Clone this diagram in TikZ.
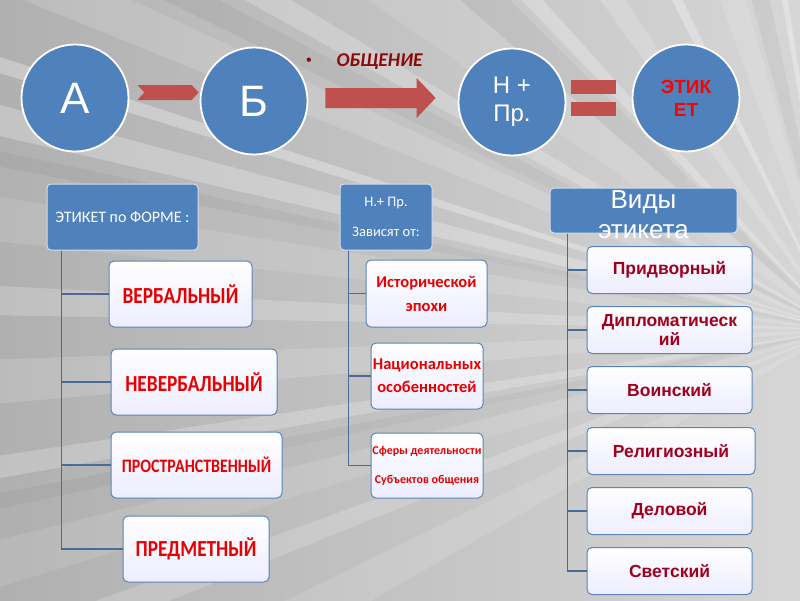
\documentclass[tikz,border=0pt]{standalone}
\usepackage{fontspec}
\usepackage{graphicx}
\setmainfont{Liberation Sans}
\newfontfamily\carl{Carlito}
\usetikzlibrary{calc}
\definecolor{cblue}{HTML}{4F81BD}
\definecolor{arrred}{HTML}{C0504D}
\definecolor{lineblue}{HTML}{4A6A9A}
\definecolor{boxedge}{HTML}{5B84B8}
\definecolor{txtred}{HTML}{E80000}
\definecolor{darkred}{HTML}{A0001C}
\definecolor{obred}{HTML}{8B0A0A}
\definecolor{bgL}{HTML}{B0B0B0}
\definecolor{bgR}{HTML}{D6D6D6}
\newcommand\fs[2]{\fontsize{#1}{#2}\selectfont}
\newcommand\lbt[1]{\scalebox{0.84}[1]{\carl\bfseries\fs{23}{26}\selectfont #1}}
\begin{document}
\begin{tikzpicture}[x=1pt,y=-1pt,
 circ/.style={circle,fill=cblue,draw=white,line width=1.8pt,minimum size=107pt,inner sep=0pt,text=white,align=center},
 hdr/.style={rounded corners=4pt,fill=cblue,draw=white!75!cblue,line width=1pt,text=white,align=center,inner sep=0pt},
 itembox/.style={rounded corners=5pt,draw=boxedge,line width=1pt,top color=white,bottom color=blue!7!white,align=center,inner sep=0pt},
 conn/.style={draw=lineblue,line width=1.2pt},
 blockarrow/.style={fill=arrred}
]
\useasboundingbox (0,0) rectangle (800,600);
% background
\shade[left color=bgL,right color=bgR] (0,0) rectangle (800,600);
\begin{scope}
\clip (0,0) rectangle (800,600);
\foreach \a/\w/\o in {150/4/0.12,158/2/0.18,163/5/0.1,170/1.5/0.22,175/3/0.15,181/2/0.2,186/5/0.12,193/2/0.25,197/1/0.3,202/4/0.15,209/2/0.22,215/6/0.1,226/2/0.25,234/3/0.18,243/1.5/0.3,250/4/0.12,260/1/0.3,266/2/0.2,275/1.5/0.22}
  \fill[white,opacity=\o] (840,330) -- +(\a:1200) -- +(\a+\w:1200) -- cycle;
\foreach \a/\w in {166/3,189/3,205/3,221/4,255/3}
  \fill[black,opacity=0.04] (840,330) -- +(\a:1200) -- +(\a+\w:1200) -- cycle;
\end{scope}

% top row
\node[circ,font=\fs{44}{48}] (A) at (75,98) {А};
\node[circ,font=\fs{44}{48}] (B) at (254,101) {Б};
\node[circ,font=\fs{24}{28}] (N) at (512,102) {Н +\\Пр.};
\node[circ,font=\bfseries\fs{19}{23},text=red] (E) at (686,98) {ЭТИК\\ЕТ};

% small arrow A -> B
\fill[blockarrow] ($(A.east)+(8,-13)$) -- ($(B.west)+(-8,-16)$) -- ($(B.west)+(-1,-8.5)$) -- ($(B.west)+(-8,-1)$) -- ($(A.east)+(8,2)$) -- ($(A.east)+(15,-5.5)$) -- cycle;
% big arrow B -> N
\fill[blockarrow] ($(B.east)+(17,-13)$) -- ($(N.west)+(-41,-14)$) -- ($(N.west)+(-41,-24)$) -- ($(N.west)+(-22,-4)$) -- ($(N.west)+(-41,16)$) -- ($(N.west)+(-41,6)$) -- ($(B.east)+(17,7)$) -- cycle;
% equals
\fill[blockarrow] ($(N.east)+(5,-22)$) rectangle ($(N.east)+(50,-8)$);
\fill[blockarrow] ($(N.east)+(5,0)$) rectangle ($(N.east)+(50,14)$);
% label
\node[text=obred,font=\fs{16}{18}] (bul) at (309,62) {•};
\node[anchor=west,text=obred,font=\carl\bfseries\itshape\fs{19.5}{21}] (ob) at (333,62) {ОБЩЕНИЕ};

% left group
\node[hdr,minimum width=151pt,minimum height=66pt,font=\carl\fs{16}{18}] (hL) at (122.5,217) {ЭТИКЕТ по ФОРМЕ :};
\node[itembox,minimum width=143pt,minimum height=66pt,text=txtred] (l1) at (180.5,294) {\lbt{ВЕРБАЛЬНЫЙ}};
\node[itembox,minimum width=166pt,minimum height=66pt,text=txtred] (l2) at (194,382) {\lbt{НЕВЕРБАЛЬНЫЙ}};
\node[itembox,minimum width=171pt,minimum height=66pt,text=txtred,font=\carl\bfseries\fs{19}{22}] (l3) at (196.5,465) {\scalebox{0.84}[1]{ПРОСТРАНСТВЕННЫЙ}};
\node[itembox,minimum width=146pt,minimum height=66pt,text=txtred] (l4) at (196,549) {\lbt{ПРЕДМЕТНЫЙ}};
\coordinate (lt) at ($(hL.south west)+(15,0)$);
\foreach \n in {l1,l2,l3,l4} \draw[conn] (lt) |- (\n.west);

% middle group
\node[hdr,minimum width=92pt,minimum height=66pt,font=\carl\fs{14.5}{30}] (hM) at (386,217) {Н.+ Пр.\\Зависят от:};
\node[itembox,minimum width=121pt,minimum height=67pt,text=txtred,font=\carl\bfseries\fs{16.5}{24}] (m1) at (426.5,293.5) {Исторической\\эпохи};
\node[itembox,minimum width=112pt,minimum height=66pt,text=txtred,font=\carl\bfseries\fs{16.5}{23}] (m2) at (427,376) {Национальных\\особенностей};
\node[itembox,minimum width=112pt,minimum height=65pt,text=txtred,font=\carl\bfseries\fs{12}{29}] (m3) at (427,465.5) {Сферы деятельности\\Субъектов общения};
\coordinate (mt) at ($(hM.south west)+(9,0)$);
\foreach \n in {m1,m2,m3} \draw[conn] (mt) |- (\n.west);

% right group
\node[hdr,minimum width=187pt,minimum height=45pt] (hR) at (643.5,210.5) {};
\node[text=white,align=center,font=\fs{26}{30}] (hRt) at (643.5,215) {Виды\\этикета};
\node[itembox,minimum width=165pt,minimum height=47pt,text=darkred,font=\bfseries\fs{17.5}{19}] (r1) at (669.5,270) {Придворный};
\node[itembox,minimum width=165pt,minimum height=47pt,text=darkred,font=\bfseries\fs{17.5}{19}] (r2) at (669.5,330) {Дипломатическ\\ий};
\node[itembox,minimum width=165pt,minimum height=47pt,text=darkred,font=\bfseries\fs{17.5}{19}] (r3) at (669.5,390) {Воинский};
\node[itembox,minimum width=168pt,minimum height=47pt,text=darkred,font=\bfseries\fs{17.5}{19}] (r4) at (671,451) {Религиозный};
\node[itembox,minimum width=165pt,minimum height=47pt,text=darkred,font=\bfseries\fs{17.5}{19}] (r5) at (669.5,511) {Деловой};
\node[itembox,minimum width=165pt,minimum height=47pt,text=darkred,font=\bfseries\fs{17.5}{19}] (r6) at (669.5,571) {Светский};
\coordinate (rt) at ($(hR.south west)+(18,0)$);
\foreach \n in {r1,r2,r3,r4,r5,r6} \draw[conn] (rt) |- (\n.west);
\end{tikzpicture}
\end{document}
